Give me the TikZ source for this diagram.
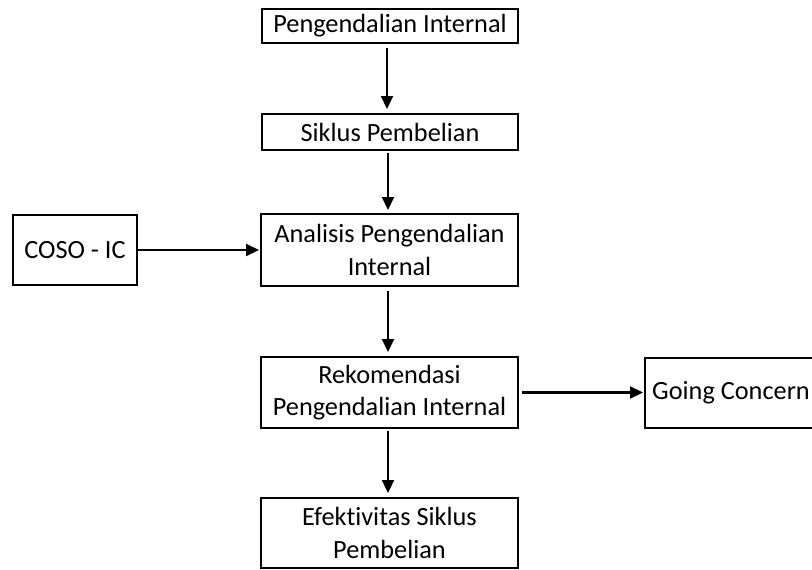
\documentclass[tikz,border=0pt]{standalone}
\usepackage{fontspec}
\setmainfont[Ligatures={NoCommon}]{Carlito}
\usetikzlibrary{arrows.meta}
\begin{document}
\begin{tikzpicture}[x=1pt,y=-1pt,
  box/.style={draw,line width=2pt,align=center,inner sep=0pt,font=\fontsize{26.3}{32.5}\selectfont},
  arr/.style={line width=2.2pt,-{Triangle[length=13pt,width=12pt]}}]
\clip (0,0) rectangle (812,570);
\useasboundingbox (0,0) rectangle (812,570);
\node[box,minimum width=256pt,minimum height=34pt] (b1) at (390,26) {Pengendalian Internal};
\node[box,minimum width=256pt,minimum height=36pt] (b2) at (390,132) {Siklus Pembelian};
\node[box,minimum width=257pt,minimum height=72pt] (b3) at (389.5,250) {Analisis Pengendalian\\Internal};
\node[box,minimum width=124pt,minimum height=70pt] (c) at (75,250) {COSO - IC};
\node[box,minimum width=257pt,minimum height=71pt] (b4) at (389.5,392.5) {Rekomendasi\\Pengendalian Internal};
\node[box,minimum width=172pt,minimum height=70pt,anchor=west] (g) at (644,392.5) {Going Concern};
\node[box,minimum width=257pt,minimum height=70pt] (b5) at (389.5,533) {Efektivitas Siklus\\Pembelian};
\draw[arr,shorten <=4pt,shorten >=4pt] ([xshift=-3pt]b1.south) -- ([xshift=-3pt]b2.north);
\draw[arr,shorten <=2pt,shorten >=3pt] ([xshift=-2pt]b2.south) -- ([xshift=-1.5pt]b3.north);
\draw[arr,shorten <=4pt,shorten >=4pt] ([xshift=-1.5pt]b3.south) -- ([xshift=-1.5pt]b4.north);
\draw[arr,shorten <=2pt,shorten >=4pt] ([xshift=-1.5pt]b4.south) -- ([xshift=-1.5pt]b5.north);
\draw[arr,shorten >=1pt] (c.east) -- (b3.west);
\draw[arr,shorten <=3pt,shorten >=1pt] (b4.east) -- (g.west);
\end{tikzpicture}
\end{document}
